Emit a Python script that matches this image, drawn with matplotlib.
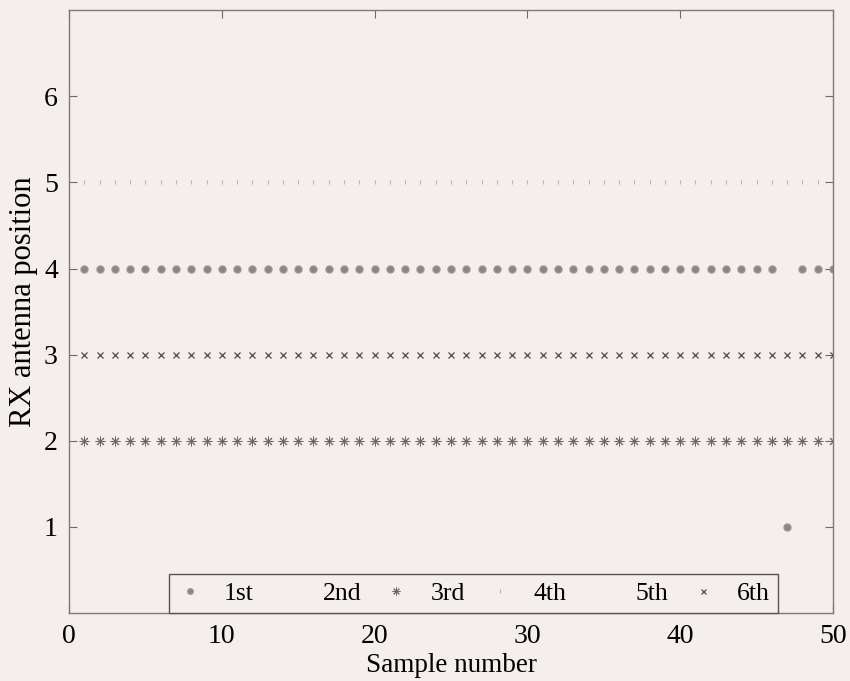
import numpy as np
import matplotlib
matplotlib.use("Agg")
import matplotlib.pyplot as plt

plt.rcParams['font.family'] = ['Liberation Serif', 'DejaVu Serif']

samples = list(range(1, 51))
pos_1st = [4]*46 + [1] + [4]*3
pos_2nd = [4]*50
pos_3rd = [2]*50
pos_4th = [5]*50
pos_5th = [5]*50
pos_6th = [3]*50
labels = ['1st', '2nd', '3rd', '4th', '5th', '6th']
xticks = [0, 10, 20, 30, 40, 50]
yticks = [1, 2, 3, 4, 5, 6]

bg = '#f4eeec'
fig = plt.figure(figsize=(8.5, 6.81), dpi=100, facecolor=bg)
ax = fig.add_axes([0.0812, 0.0999, 0.8988, 0.885])
ax.set_facecolor(bg)

h2, = ax.plot(samples, pos_2nd, linestyle='none', marker='None', label=labels[1])
h5, = ax.plot(samples, pos_5th, linestyle='none', marker='None', label=labels[4])
h4, = ax.plot(samples, pos_4th, linestyle='none', marker='|', markersize=3,
              color='#b8b2b0', markeredgewidth=0.8, label=labels[3])
h1, = ax.plot(samples, pos_1st, linestyle='none', marker='o', markersize=5,
              color='#8a8685', markeredgecolor='#9a9695', label=labels[0])
h3, = ax.plot(samples, pos_3rd, linestyle='none', marker=(8, 2, 0), markersize=7,
              color='#6e6a69', markeredgewidth=0.7, label=labels[2])
h6, = ax.plot(samples, pos_6th, linestyle='none', marker='x', markersize=4.5,
              color='#4f4b4a', markeredgewidth=0.9, label=labels[5])

ax.set_xlim(0, 50)
ax.set_ylim(0, 7)
ax.set_xticks(xticks)
ax.set_yticks(yticks)
ax.tick_params(direction='in', top=True, right=True, length=6, width=0.8,
               color='#6a6a6a', labelsize=20, pad=8)
for sp in ax.spines.values():
    sp.set_color('#7a7a7a')
    sp.set_linewidth(1.0)

ax.set_xlabel('Sample number', fontsize=19.5, labelpad=3)
ax.set_ylabel('RX antenna position', fontsize=22)
ax.yaxis.set_label_coords(-0.041, 0.517)

leg = ax.legend([h1, h2, h3, h4, h5, h6], labels, ncol=6, loc='lower left',
                bbox_to_anchor=(0.131, 0.0), fontsize=18.5, frameon=True,
                fancybox=False, edgecolor='#555555', facecolor=bg,
                handlelength=1.0, handletextpad=0.82, columnspacing=0.86,
                borderpad=0.32, borderaxespad=0.0, markerscale=0.8)
leg.get_frame().set_linewidth(1.0)
leg.get_frame().set_alpha(1)

fig.savefig('out.png', dpi=100, facecolor=bg)
